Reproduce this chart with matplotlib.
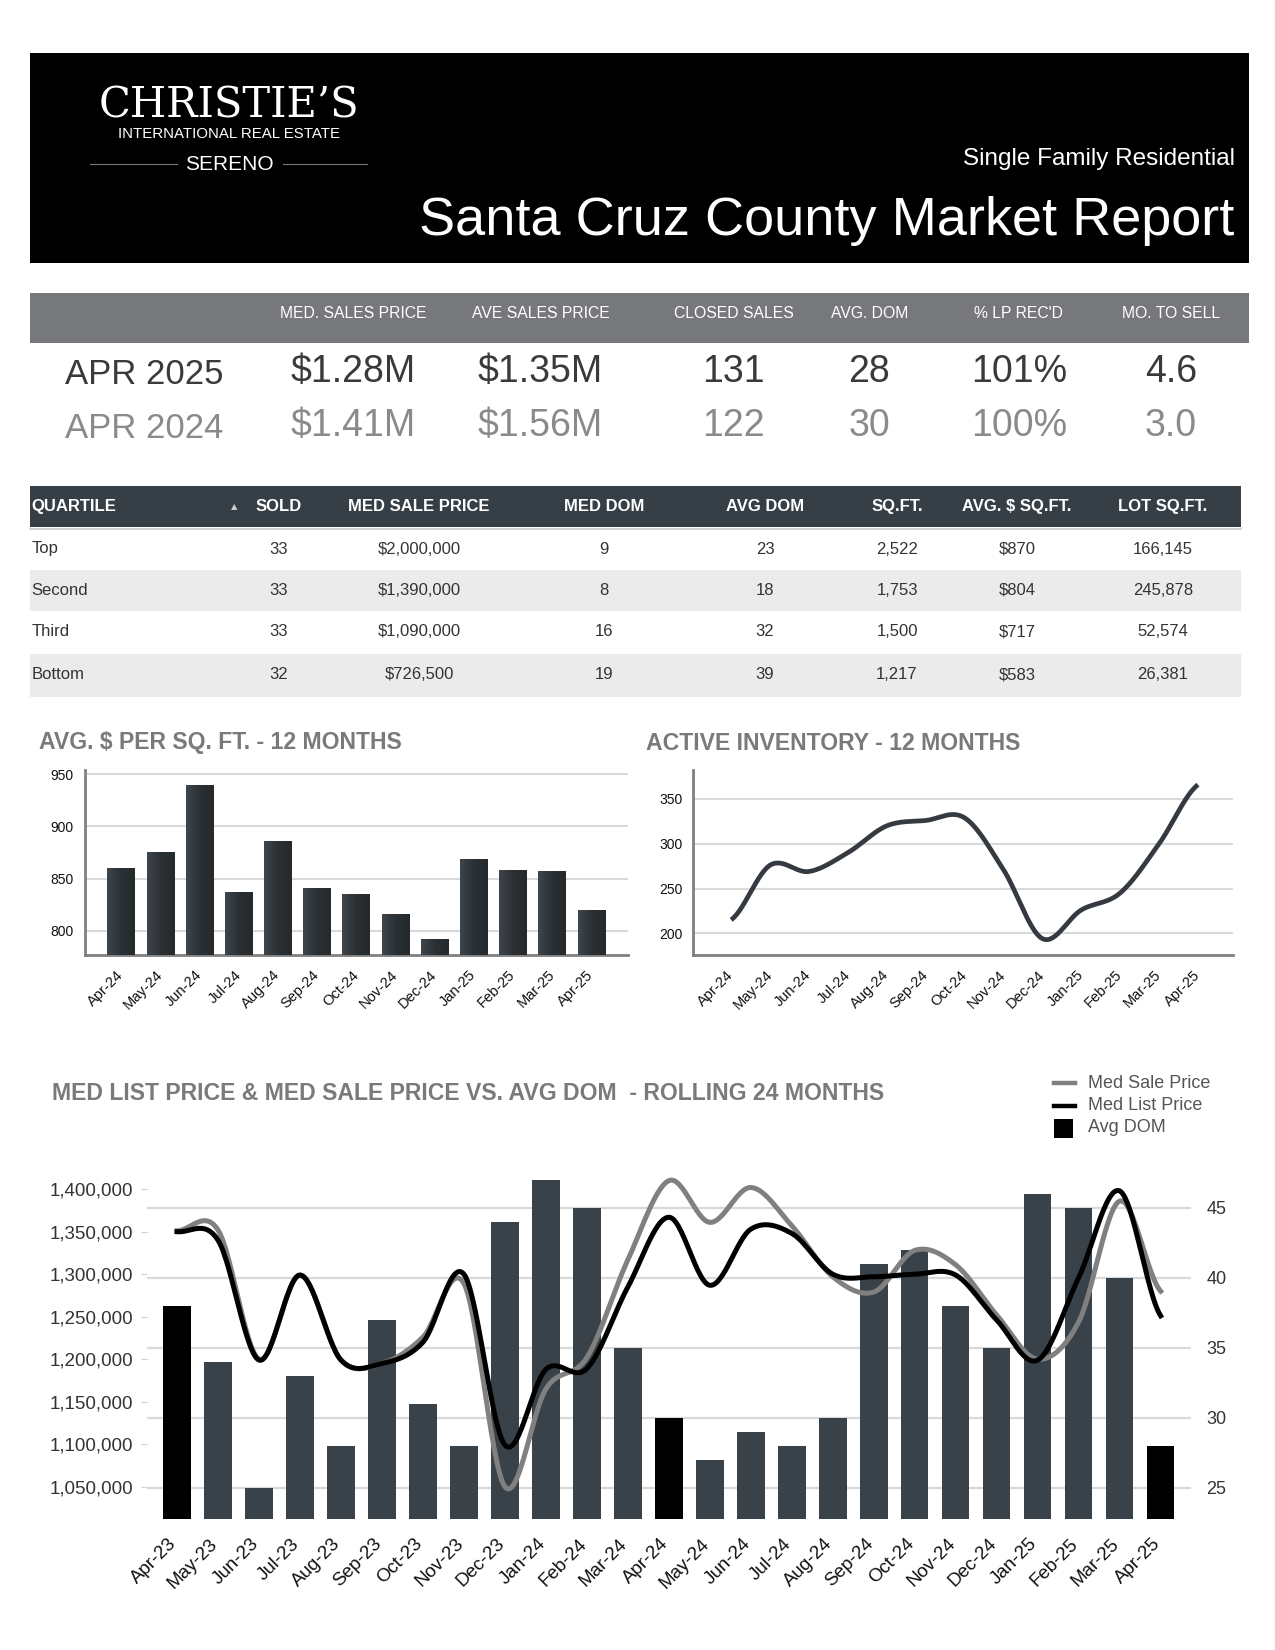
import numpy as np
import matplotlib
matplotlib.use("Agg")
import matplotlib.pyplot as plt
import matplotlib.transforms as mtransforms
from matplotlib.patches import Rectangle
from matplotlib.lines import Line2D
from matplotlib.colors import LinearSegmentedColormap

plt.rcParams['font.family'] = ['Liberation Sans', 'DejaVu Sans']

# ---------------- data ----------------
stat_headers = ['MED. SALES PRICE', 'AVE SALES PRICE', 'CLOSED SALES', 'AVG. DOM', "% LP REC'D", 'MO. TO SELL']
stat_2025 = ['$1.28M', '$1.35M', '131', '28', '101%', '4.6']
stat_2024 = ['$1.41M', '$1.56M', '122', '30', '100%', '3.0']

q_headers = ['SOLD', 'MED SALE PRICE', 'MED DOM', 'AVG DOM', 'SQ.FT.', 'AVG. $ SQ.FT.', 'LOT SQ.FT.']
quartiles = ['Top', 'Second', 'Third', 'Bottom']
q_sold = [33, 33, 33, 32]
q_med_price = [2000000, 1390000, 1090000, 726500]
q_med_dom = [9, 8, 16, 19]
q_avg_dom = [23, 18, 32, 39]
q_sqft = [2522, 1753, 1500, 1217]
q_ppsf = [870, 804, 717, 583]
q_lot = [166145, 245878, 52574, 26381]

months12 = ['Apr-24', 'May-24', 'Jun-24', 'Jul-24', 'Aug-24', 'Sep-24', 'Oct-24',
            'Nov-24', 'Dec-24', 'Jan-25', 'Feb-25', 'Mar-25', 'Apr-25']
ppsf12 = [860, 876, 940, 837, 886, 841, 835, 816, 792, 869, 858, 857, 820]
inventory12 = [215, 276, 269, 290, 320, 326, 329, 271, 194, 226, 245, 300, 366]

months24 = ['Apr-23', 'May-23', 'Jun-23', 'Jul-23', 'Aug-23', 'Sep-23', 'Oct-23', 'Nov-23',
            'Dec-23', 'Jan-24', 'Feb-24', 'Mar-24', 'Apr-24', 'May-24', 'Jun-24', 'Jul-24',
            'Aug-24', 'Sep-24', 'Oct-24', 'Nov-24', 'Dec-24', 'Jan-25', 'Feb-25', 'Mar-25', 'Apr-25']
avg_dom24 = [38, 34, 25, 33, 28, 37, 31, 28, 44, 47, 45, 35, 30, 27, 29, 28, 30, 41, 42, 38, 35, 46, 45, 40, 28]
med_list24 = [1350000, 1340000, 1199000, 1299000, 1199000, 1195000, 1220000, 1300000, 1099000,
              1188000, 1189000, 1285000, 1367000, 1287000, 1353000, 1348000, 1300000, 1297000,
              1300000, 1299000, 1246000, 1199000, 1296000, 1398000, 1251000]
med_sale24 = [1351000, 1352000, 1200000, 1299000, 1199000, 1195000, 1226000, 1289000, 1050000,
              1165000, 1202000, 1317000, 1410000, 1361000, 1402000, 1357000, 1297000, 1279000,
              1328000, 1311000, 1252000, 1200000, 1244000, 1386000, 1280000]

# ---------------- helpers ----------------
W, H = 1275, 1650
fig = plt.figure(figsize=(W / 100, H / 100), dpi=100)


def fx(x):
    return x / W


def fy(y):
    return 1 - y / H


def ftext(x, y, s, **kw):
    kw.setdefault('va', 'center')
    return fig.text(fx(x), fy(y), s, **kw)


def frect(x0, y0, x1, y1, color, z=0):
    fig.add_artist(Rectangle((fx(x0), fy(y1)), (x1 - x0) / W, (y1 - y0) / H,
                             transform=fig.transFigure, facecolor=color,
                             edgecolor='none', zorder=z))


def fline(x0, x1, y, color, lw):
    fig.add_artist(Line2D([fx(x0), fx(x1)], [fy(y), fy(y)], transform=fig.transFigure,
                          color=color, lw=lw))


def add_axes_px(left, top, right, bottom):
    return fig.add_axes([fx(left), fy(bottom), (right - left) / W, (bottom - top) / H])


def shift_xlabels(ax, dx_px, dy_px):
    off = mtransforms.ScaledTranslation(dx_px / 100, dy_px / 100, fig.dpi_scale_trans)
    for lab in ax.get_xticklabels():
        lab.set_transform(lab.get_transform() + off)


def smooth(values, n=30):
    """Excel-style smoothed line (cubic Hermite / Catmull-Rom) for drawing."""
    y = np.asarray(values, dtype=float)
    k = len(y)
    m = np.zeros(k)
    m[1:-1] = (y[2:] - y[:-2]) / 2
    m[0] = (y[1] - y[0]) / 2
    m[-1] = (y[-1] - y[-2]) / 2
    xs, ys = [], []
    for i in range(k - 1):
        t = np.linspace(0, 1, n, endpoint=(i == k - 2))
        h00 = 2 * t**3 - 3 * t**2 + 1
        h10 = t**3 - 2 * t**2 + t
        h01 = -2 * t**3 + 3 * t**2
        h11 = t**3 - t**2
        ys.append(h00 * y[i] + h10 * m[i] + h01 * y[i + 1] + h11 * m[i + 1])
        xs.append(i + t)
    return np.concatenate(xs), np.concatenate(ys)


# ---------------- header ----------------
frect(29.5, 52.7, 1249, 263.4, 'black')
ftext(228.5, 105, "CHRISTIE\u2019S", family=['DejaVu Serif', 'Liberation Serif'],
      fontsize=30, color='white', ha='center')
ftext(229.5, 134, 'INTERNATIONAL REAL ESTATE', fontsize=10.8, color='white', ha='center')
ftext(229, 164, 'SERENO', fontsize=15, color='white', ha='center')
fline(90, 177, 164, '#777777', 0.8)
fline(283, 367, 164, '#777777', 0.8)
ftext(1235, 159, 'Single Family Residential', fontsize=17.5, color='white', ha='right')
ftext(1234, 221, 'Santa Cruz County Market Report', fontsize=39, color='white', ha='right')

# ---------------- stats band ----------------
frect(29.5, 293, 1249, 342.5, '#77787b')
stat_x = [353, 540.6, 733.4, 869.3, 1019, 1170.7]
for x, h in zip(stat_x, stat_headers):
    ftext(x, 314, h, fontsize=11.3, color='white', ha='center')
ftext(144.4, 375, 'APR 2025', fontsize=25, color='#3a3a3a', ha='center')
ftext(144.4, 428, 'APR 2024', fontsize=25, color='#8a8a8a', ha='center')
for x, a, b in zip(stat_x, stat_2025, stat_2024):
    ftext(x, 372, a, fontsize=27, color='#3a3a3a', ha='center')
    ftext(x, 426, b, fontsize=27, color='#8a8a8a', ha='center')

# ---------------- quartile table ----------------
frect(29.5, 485.8, 1241, 527, '#363f45')
fline(29.5, 1241, 529, '#c8c8c8', 1.2)
col_x = [279, 419, 604, 765, 897, 1017, 1163]
ftext(31.6, 506.5, 'QUARTILE', fontsize=12, weight='bold', color='white', ha='left')
ftext(234, 506.5, '\u25b2', family=['DejaVu Sans'], fontsize=6, color='#cccccc', ha='center')
for x, h in zip(col_x, q_headers):
    ftext(x, 506.5, h, fontsize=12, weight='bold', color='white', ha='center')
row_top = [530, 570, 612, 654]
row_bot = [569, 611, 653, 696.5]
for r in range(4):
    if r % 2 == 1:
        frect(29.5, row_top[r], 1241, row_bot[r], '#ebebeb')
    yc = (row_top[r] + row_bot[r]) / 2 - 0.5
    vals = [str(q_sold[r]), '${:,}'.format(q_med_price[r]), str(q_med_dom[r]), str(q_avg_dom[r]),
            '{:,}'.format(q_sqft[r]), '${:,}'.format(q_ppsf[r]), '{:,}'.format(q_lot[r])]
    ftext(31.6, yc, quartiles[r], fontsize=12, color='#333333', ha='left')
    for x, v in zip(col_x, vals):
        ftext(x, yc, v, fontsize=12, color='#333333', ha='center')

# ---------------- chart titles ----------------
title_kw = dict(fontsize=16.6, weight='bold', color='#7a7a7a', ha='left')
ftext(39, 743, 'AVG. $ PER SQ. FT. - 12 MONTHS', **title_kw)
ftext(646, 743, 'ACTIVE INVENTORY - 12 MONTHS', **title_kw)
ftext(51.6, 1093, 'MED LIST PRICE & MED SALE PRICE VS. AVG DOM  - ROLLING 24 MONTHS', **title_kw)


def style_small(ax):
    for s in ['top', 'right']:
        ax.spines[s].set_visible(False)
    for s in ['left', 'bottom']:
        ax.spines[s].set_color('#808080')
        ax.spines[s].set_linewidth(2)
    ax.grid(axis='y', color='#d9d9d9', lw=1.5)
    ax.set_axisbelow(True)
    ax.tick_params(axis='y', length=0, pad=8, labelsize=10, labelcolor='#111111')
    ax.tick_params(axis='x', length=0, pad=7, labelsize=10.5, labelcolor='#111111')


# ---------------- avg $ per sq ft bar chart ----------------
ax1 = add_axes_px(84.8, 770, 628, 955)
x12 = np.arange(len(months12))
bars = ax1.bar(x12, ppsf12, width=0.71, color='#30363b', zorder=2)
cmap = LinearSegmentedColormap.from_list('barg', ['#3e464c', '#2b3034', '#25292c'])
grad = np.linspace(0, 1, 64).reshape(1, -1)
ylo1, yhi1 = 777, 954
for b in bars:
    im = ax1.imshow(grad, extent=[b.get_x(), b.get_x() + b.get_width(), ylo1, b.get_height()],
                    cmap=cmap, aspect='auto', zorder=3, interpolation='bilinear')
    im.set_clip_path(b)
ax1.set_xlim(-0.93, 12.93)
ax1.set_ylim(ylo1, yhi1)
ax1.set_yticks([800, 850, 900, 950])
ax1.set_xticks(x12)
ax1.set_xticklabels(months12, rotation=45, ha='right', rotation_mode='anchor')
style_small(ax1)
shift_xlabels(ax1, -5, -3)

# ---------------- active inventory line chart ----------------
ax2 = add_axes_px(693.4, 770, 1233, 955)
sx, sy = smooth(inventory12)
ax2.plot(sx, sy, color='#343a40', lw=3.4, solid_capstyle='butt', zorder=3)
ax2.set_xlim(-0.97, 12.9)
ax2.set_ylim(175.7, 382.4)
ax2.set_yticks([200, 250, 300, 350])
ax2.set_xticks(x12)
ax2.set_xticklabels(months12, rotation=45, ha='right', rotation_mode='anchor')
style_small(ax2)
shift_xlabels(ax2, -5, -3)

# ---------------- 24 month combo chart ----------------
axb = add_axes_px(146.7, 1165, 1191, 1519.3)
axl = axb.twinx()
x24 = np.arange(len(months24))
bar_colors = ['#000000' if m.startswith('Apr') else '#394249' for m in months24]
axb.bar(x24, avg_dom24, width=0.67, color=bar_colors, zorder=2)
axb.set_ylim(22.74, 48.05)
axb.set_xlim(-0.74, 24.74)
axb.set_yticks([25, 30, 35, 40, 45])
axb.grid(axis='y', color='#d9d9d9', lw=1.6)
axb.set_axisbelow(True)
for s in axb.spines.values():
    s.set_visible(False)
axb.set_xticks(x24)
axb.set_xticklabels(months24, rotation=45, ha='right', rotation_mode='anchor')
axb.tick_params(axis='x', length=0, pad=8, labelsize=13.5, labelcolor='#111111')
shift_xlabels(axb, -9, -5)

gx, gy = smooth(med_sale24)
axl.plot(gx, gy, color='#808080', lw=3.6, zorder=3)
kx, ky = smooth(med_list24)
axl.plot(kx, ky, color='#000000', lw=3.6, zorder=4)
axl.set_ylim(1011650, 1428480)
axl.set_yticks(np.arange(1050000, 1400001, 50000))
axl.yaxis.set_major_formatter(matplotlib.ticker.FuncFormatter(lambda v, p: '{:,.0f}'.format(v)))
for s in axl.spines.values():
    s.set_visible(False)

# place the axes sides: DOM on the right, prices on the left
axb.yaxis.tick_right()
axb.yaxis.set_label_position('right')
axl.yaxis.tick_left()
axl.yaxis.set_label_position('left')
axb.tick_params(axis='y', which='both', left=False, labelleft=False, right=False,
                labelright=True, length=0, pad=11, labelsize=13, labelcolor='#333333')
axl.tick_params(axis='y', which='both', right=False, labelright=False, left=True,
                labelleft=True, length=4, width=0.8, color='#d0d0d0', pad=6,
                labelsize=13.5, labelcolor='#333333')

# legend
fline(1054, 1075, 1083, '#808080', 3.2)
fline(1054, 1075, 1105.5, '#000000', 3.2)
frect(1054, 1119, 1073, 1138, '#000000')
leg_kw = dict(fontsize=13, color='#555555', ha='left')
ftext(1087.5, 1083, 'Med Sale Price', **leg_kw)
ftext(1087.5, 1105.5, 'Med List Price', **leg_kw)
ftext(1087.5, 1127.5, 'Avg DOM', **leg_kw)

fig.savefig('out.png', dpi=100, facecolor='white')
